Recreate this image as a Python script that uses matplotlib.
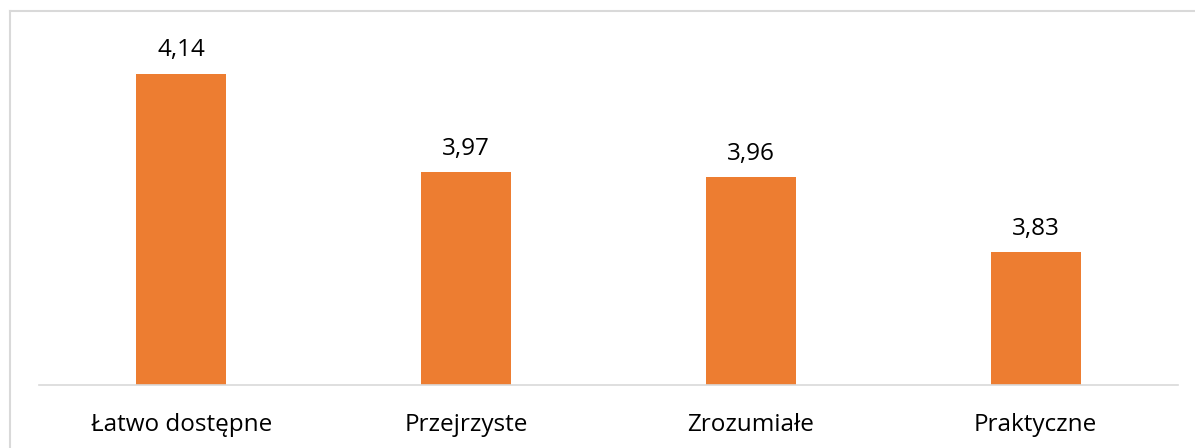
import matplotlib.pyplot as plt
from matplotlib.lines import Line2D

# Dane
categories = ['Łatwo dostępne', 'Przejrzyste', 'Zrozumiałe', 'Praktyczne']
values = [4.14, 3.97, 3.96, 3.83]
labels = ['4,14', '3,97', '3,96', '3,83']

plt.rcParams['font.family'] = ['Open Sans', 'DejaVu Sans']

fig = plt.figure(figsize=(11.95, 4.48), dpi=100)
ax = fig.add_axes([0.0326, 0.1406, 0.9532, 0.7724])

x = range(len(categories))
bars = ax.bar(x, values, width=0.316, color='#ED7D31', bottom=0)
ax.set_ylim(3.6, 4.2)
ax.set_xlim(-0.5, len(categories) - 0.5)

for b, lab in zip(bars, labels):
    ax.annotate(lab, xy=(b.get_x() + b.get_width() / 2, b.get_height()),
                xytext=(0, 8), textcoords='offset points',
                ha='center', va='bottom', fontsize=17.5, color='#000000')

ax.set_xticks(list(x))
ax.set_xticklabels(categories, fontsize=17.5, color='#000000')
ax.tick_params(axis='x', length=0, pad=20)
ax.set_yticks([])
for s in ['top', 'right', 'left']:
    ax.spines[s].set_visible(False)
ax.spines['bottom'].set_color('#D9D9D9')
ax.spines['bottom'].set_linewidth(1.2)

# Ramka wykresu (widoczna tylko góra i lewa strona)
fig.add_artist(Line2D([10 / 1195, 1.0], [1 - 11 / 448, 1 - 11 / 448],
                      transform=fig.transFigure, color='#D9D9D9', linewidth=1.5))
fig.add_artist(Line2D([10 / 1195, 10 / 1195], [0, 1 - 11 / 448],
                      transform=fig.transFigure, color='#D9D9D9', linewidth=1.5))

plt.savefig('out.png', dpi=100)
